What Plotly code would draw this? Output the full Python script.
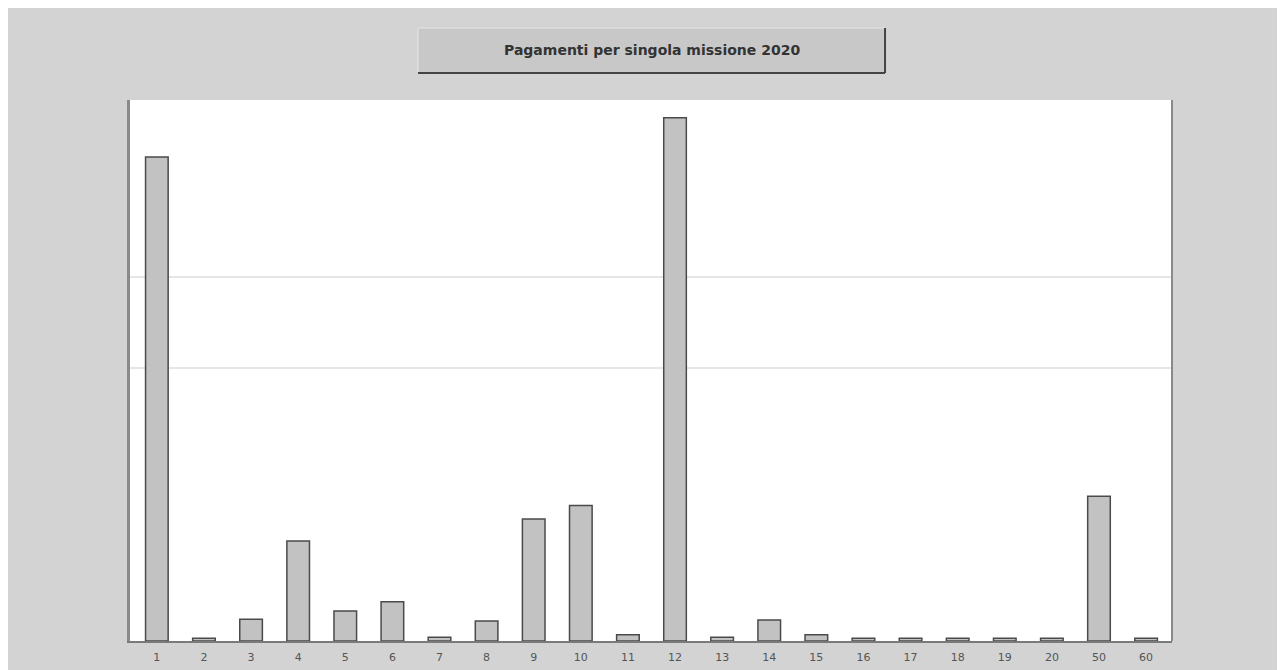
import plotly.graph_objects as go

# categories on the x axis (mission number)
categorie = ["1", "2", "3", "4", "5", "6", "7", "8", "9", "10", "11",
             "12", "13", "14", "15", "16", "17", "18", "19", "20", "50", "60"]
# payments per mission (arbitrary units)
pagamenti = [5.32, 0.03, 0.24, 1.10, 0.33, 0.43, 0.04, 0.22, 1.34, 1.49, 0.07,
             5.75, 0.04, 0.23, 0.07, 0.03, 0.03, 0.03, 0.03, 0.03, 1.59, 0.03]
griglia = [3, 4]
titolo = "Pagamenti per singola missione 2020"

fig = go.Figure()
fig.add_trace(go.Bar(
    x=categorie,
    y=pagamenti,
    marker=dict(color="#c2c2c2", line=dict(color="#4a4a4a", width=1.5)),
    width=0.48,
    hoverinfo="x+y",
))

fig.update_layout(
    width=1285,
    height=670,
    paper_bgcolor="#d3d3d3",
    plot_bgcolor="#ffffff",
    margin=dict(l=122, r=121, t=92, b=37, autoexpand=False),
    showlegend=False,
    font=dict(family="DejaVu Sans, Verdana, sans-serif", color="#444444"),
    xaxis=dict(
        type="category",
        range=[-0.57, len(categorie) - 0.45],
        showgrid=False,
        showline=True,
        linecolor="#7a7a7a",
        linewidth=2,
        ticks="outside",
        ticklen=5,
        tickcolor="rgba(0,0,0,0)",
        tickfont=dict(size=11, color="#555555"),
        automargin=False,
        fixedrange=True,
    ),
    yaxis=dict(
        range=[0, 5.945],
        tickvals=griglia,
        showticklabels=False,
        showgrid=True,
        gridcolor="#e6e6e6",
        gridwidth=2,
        zeroline=False,
        showline=True,
        linecolor="#8a8a8a",
        linewidth=3,
        ticks="",
        automargin=False,
        fixedrange=True,
    ),
)

# right border of plot area
fig.add_shape(type="line", xref="paper", yref="paper", x0=1, x1=1, y0=0, y1=1,
              line=dict(color="#8a8a8a", width=2))

# title box with a raised look
bx0, bx1, by0, by1 = 0.2764, 0.7246, 1.0499, 1.1331
fig.add_shape(type="rect", xref="paper", yref="paper", x0=bx0, x1=bx1, y0=by0, y1=by1,
              fillcolor="#c8c8c8", line=dict(color="#e4e4e4", width=1), layer="below")
fig.add_shape(type="line", xref="paper", yref="paper", x0=bx0, x1=bx1, y0=by0, y1=by0,
              line=dict(color="#444444", width=2))
fig.add_shape(type="line", xref="paper", yref="paper", x0=bx1, x1=bx1, y0=by0, y1=by1,
              line=dict(color="#444444", width=2))
fig.add_annotation(
    text="<b>" + titolo + "</b>",
    xref="paper", yref="paper",
    x=(bx0 + bx1) / 2, y=(by0 + by1) / 2,
    xanchor="center", yanchor="middle",
    showarrow=False,
    font=dict(size=14, color="#333333"),
)

fig.write_html("out.html")
